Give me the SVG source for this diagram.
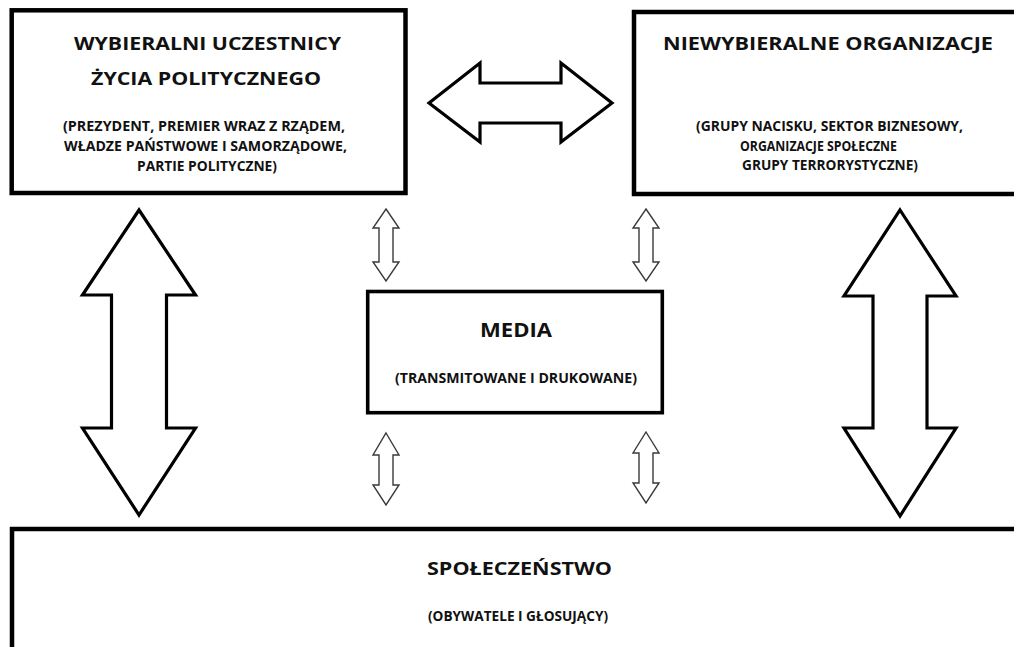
<svg xmlns="http://www.w3.org/2000/svg" width="1014" height="647" viewBox="0 0 1014 647">
<style>
.box{fill:#fff;stroke:#000;stroke-width:4.5}
.big{fill:#fff;stroke:#000;stroke-width:3.2;stroke-linejoin:miter}
.small{fill:#fff;stroke:#3a3a3a;stroke-width:1.4;stroke-linejoin:miter}
text{font-family:"Open Sans","DejaVu Sans",sans-serif;font-weight:bold;fill:#111}
.t{font-size:18.5px}
.s{font-size:14.5px}
</style>
<rect width="1014" height="647" fill="#fff"/>
<g id="connectors">
<path class="big" d="M429,103 L480,63 L480,83 L561,83 L561,63 L612,103 L561,142 L561,123 L480,123 L480,142 Z"/>
<path class="big" d="M139,210 L195.5,295 L166.5,295 L166.5,428 L195.5,428 L139,515 L82.5,428 L111.5,428 L111.5,295 L82.5,295 Z"/>
<path class="big" d="M900,210 L956,296 L927,296 L927,428 L956,428 L900,516 L844,428 L873,428 L873,296 L844,296 Z"/>
<path class="small" d="M386,209 L399,228 L393,228 L393,262 L399,262 L386,281 L373,262 L379,262 L379,228 L373,228 Z"/>
<path class="small" d="M646,209 L659,228 L653,228 L653,262 L659,262 L646,281 L633,262 L639,262 L639,228 L633,228 Z"/>
<path class="small" d="M386,433 L399,455 L393,455 L393,485 L399,485 L386,505 L373,485 L379,485 L379,455 L373,455 Z"/>
<path class="small" d="M646,432 L659,453 L653,453 L653,483 L659,483 L646,503 L633,483 L639,483 L639,453 L633,453 Z"/>
</g>
<g id="wybieralni">
<rect class="box" x="11.7" y="10.3" width="393.8" height="182.7"/>
<text class="t" x="74" y="50" textLength="267" lengthAdjust="spacingAndGlyphs">WYBIERALNI UCZESTNICY</text>
<text class="t" x="91" y="85" textLength="230" lengthAdjust="spacingAndGlyphs">ŻYCIA POLITYCZNEGO</text>
<text class="s" x="63" y="131" textLength="282" lengthAdjust="spacingAndGlyphs">(PREZYDENT, PREMIER WRAZ Z RZĄDEM,</text>
<text class="s" x="64" y="151" textLength="283" lengthAdjust="spacingAndGlyphs">WŁADZE PAŃSTWOWE I SAMORZĄDOWE,</text>
<text class="s" x="137" y="171" textLength="140" lengthAdjust="spacingAndGlyphs">PARTIE POLITYCZNE)</text>
</g>
<g id="niewybieralne">
<rect class="box" x="634" y="12" width="400" height="182"/>
<text class="t" x="663" y="50" textLength="330" lengthAdjust="spacingAndGlyphs">NIEWYBIERALNE ORGANIZACJE</text>
<text class="s" x="696" y="131" textLength="267" lengthAdjust="spacingAndGlyphs">(GRUPY NACISKU, SEKTOR BIZNESOWY,</text>
<text class="s" x="740" y="151" textLength="157" lengthAdjust="spacingAndGlyphs">ORGANIZACJE SPOŁECZNE</text>
<text class="s" x="742" y="170" textLength="176" lengthAdjust="spacingAndGlyphs">GRUPY TERRORYSTYCZNE)</text>
</g>
<g id="media">
<rect class="box" x="367.7" y="291.5" width="294.6" height="121.2" style="stroke-width:3.6"/>
<text x="480" y="337" style="font-size:20px" textLength="72" lengthAdjust="spacingAndGlyphs">MEDIA</text>
<text class="s" x="395" y="383" textLength="242" lengthAdjust="spacingAndGlyphs">(TRANSMITOWANE I DRUKOWANE)</text>
</g>
<g id="spoleczenstwo">
<rect class="box" x="12" y="529" width="1030" height="140"/>
<text class="t" x="427" y="575" textLength="185" lengthAdjust="spacingAndGlyphs">SPOŁECZEŃSTWO</text>
<text class="s" x="428" y="621" textLength="180" lengthAdjust="spacingAndGlyphs">(OBYWATELE I GŁOSUJĄCY)</text>
</g>
</svg>
